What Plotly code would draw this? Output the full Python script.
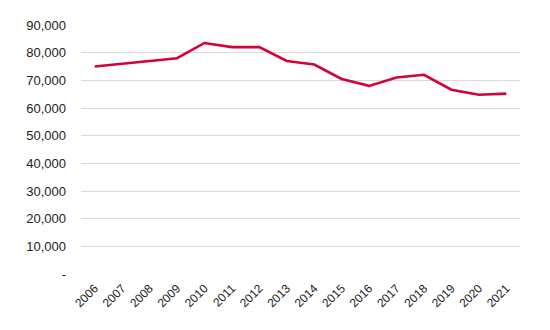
import plotly.graph_objects as go

years = [str(y) for y in range(2006, 2022)]
values = [75000, 76000, 77000, 78000, 83500, 82000, 82000, 77000, 75700,
          70500, 68000, 71000, 72000, 66600, 64800, 65200]
ytick_vals = [0, 10000, 20000, 30000, 40000, 50000, 60000, 70000, 80000, 90000]
ytick_text = ["-", "10,000", "20,000", "30,000", "40,000", "50,000",
              "60,000", "70,000", "80,000", "90,000"]

fig = go.Figure(go.Scatter(
    x=years, y=values, mode="lines",
    line=dict(color="#D6003A", width=2.6),
    hoverinfo="skip",
))
fig.update_layout(
    width=550, height=330,
    margin=dict(l=81, r=30, t=25, b=56),
    paper_bgcolor="white", plot_bgcolor="white",
    showlegend=False,
    font=dict(family="Liberation Sans, Arial", color="#222222"),
)
fig.update_xaxes(
    type="category", range=[-0.5, 15.5],
    tickangle=-45, tickfont=dict(size=12),
    showgrid=False, showline=False, ticks="", ticklabelstandoff=4,
)
fig.update_yaxes(
    range=[0, 90000], tickvals=ytick_vals, ticktext=ytick_text,
    tickfont=dict(size=13), showgrid=True, gridcolor="#d9d9d9", gridwidth=1,
    zeroline=False, showline=False, ticks="", ticklabelstandoff=14,
)
fig.write_html("out.html")
